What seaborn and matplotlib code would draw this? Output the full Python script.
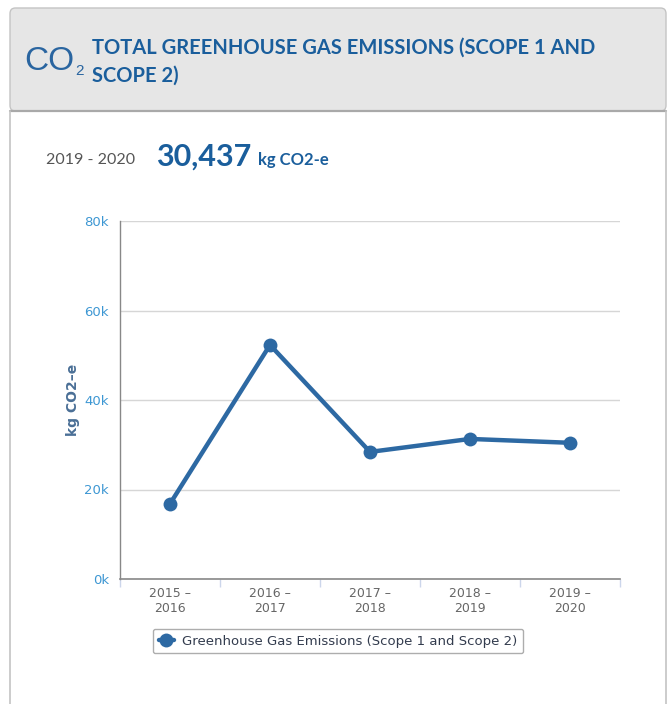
import matplotlib
matplotlib.use("Agg")
import matplotlib.pyplot as plt
import seaborn as sns
import pandas as pd
from matplotlib.patches import FancyBboxPatch
from matplotlib.lines import Line2D

# ---- data ----
periods = ["2015 –\n2016", "2016 –\n2017", "2017 –\n2018", "2018 –\n2019", "2019 –\n2020"]
emissions = [16800, 52300, 28400, 31300, 30437]
series_name = "Greenhouse Gas Emissions (Scope 1 and Scope 2)"
y_ticks = [0, 20000, 40000, 60000, 80000]
y_tick_labels = ["0k", "20k", "40k", "60k", "80k"]

sns.set_theme(style="white")
plt.rcParams["font.family"] = ["DejaVu Sans"]

W, H = 672, 704
fig = plt.figure(figsize=(W / 100, H / 100), dpi=100)

def fx(x):
    return x / W

def fy(y):
    return 1 - y / H

# card / header
header = FancyBboxPatch((fx(10), fy(111)), fx(666) - fx(10), fy(8) - fy(111),
                        boxstyle="round,pad=0,rounding_size=0.008",
                        transform=fig.transFigure, facecolor="#e6e6e6",
                        edgecolor="#c4c4c4", linewidth=1.0, zorder=0)
fig.patches.append(header)
fig.add_artist(Line2D([fx(10), fx(666)], [fy(111), fy(111)], transform=fig.transFigure,
                      color="#a9a9a9", linewidth=1.6))
fig.add_artist(Line2D([fx(10), fx(10)], [fy(111), 0], transform=fig.transFigure,
                      color="#c4c4c4", linewidth=1.2))
fig.add_artist(Line2D([fx(666), fx(666)], [fy(111), 0], transform=fig.transFigure,
                      color="#c4c4c4", linewidth=1.2))

blue = "#1a5e9c"
fig.text(fx(24), fy(61), "CO", fontsize=24, color="#2a65a0", family="Liberation Sans",
         fontweight="normal", va="center", ha="left")
fig.text(fx(75), fy(71), "2", fontsize=11, color="#2a65a0", family="Liberation Sans",
         va="center", ha="left")
fig.text(fx(92), fy(48), "TOTAL GREENHOUSE GAS EMISSIONS (SCOPE 1 AND", fontsize=14.5,
         color=blue, family="Lato", fontweight="bold", va="center", ha="left")
fig.text(fx(92), fy(76), "SCOPE 2)", fontsize=14.5,
         color=blue, family="Lato", fontweight="bold", va="center", ha="left")

fig.text(fx(46), fy(160), "2019 - 2020", fontsize=11.5, color="#555555",
         family="Lato", va="center", ha="left")
fig.text(fx(156), fy(157), f"{emissions[-1]:,}", fontsize=22, color=blue,
         family="Lato", fontweight="bold", va="center", ha="left")
fig.text(fx(258), fy(160), "kg CO2-e", fontsize=12, color=blue,
         family="Lato", fontweight="bold", va="center", ha="left")

# ---- chart ----
ax = fig.add_axes([fx(120), fy(579), fx(620) - fx(120), fy(221) - fy(579)])
df = pd.DataFrame({"period": periods, "emissions": emissions})
line_color = "#2d69a3"
sns.lineplot(data=df, x="period", y="emissions", ax=ax, color=line_color,
             linewidth=3.2, marker="o", markersize=10, markeredgewidth=0,
             sort=False, label=series_name, legend=False)

ax.set_xlim(-0.5, len(periods) - 0.5)
ax.set_ylim(0, 80000)
ax.set_yticks(y_ticks)
ax.set_yticklabels(y_tick_labels)
ax.yaxis.grid(True, color="#d6d6d6", linewidth=1)
ax.xaxis.grid(False)
ax.set_axisbelow(True)
for s in ["top", "right"]:
    ax.spines[s].set_visible(False)
ax.spines["left"].set_color("#888888")
ax.spines["left"].set_linewidth(1)
ax.spines["bottom"].set_color("#888888")
ax.spines["bottom"].set_linewidth(1.2)

ax.set_xticks(range(len(periods)))
ax.set_xticklabels(periods, fontsize=9, color="#666666", linespacing=1.2)
ax.set_xticks([i - 0.5 for i in range(len(periods) + 1)], minor=True)
ax.tick_params(axis="x", which="major", length=0, pad=6)
ax.tick_params(axis="x", which="minor", length=6, color="#ccd6eb", width=1, direction="out",
               bottom=True)
ax.tick_params(axis="y", length=0, labelsize=9.5, labelcolor="#3d97d3", pad=8)

ax.set_xlabel("")
ax.set_ylabel("kg CO2–e", fontsize=10, color="#4a6f96", fontweight="bold", labelpad=3)

handles = [Line2D([0], [0], color=line_color, linewidth=3.2, marker="o", markersize=10,
                  markeredgewidth=0)]
leg = fig.legend(handles, [series_name], loc="center", bbox_to_anchor=(fx(338), fy(641)),
                 bbox_transform=fig.transFigure, frameon=True, fontsize=9.5,
                 handlelength=1.2, handletextpad=0.6, borderpad=0.45, fancybox=True)
leg.get_frame().set_edgecolor("#999999")
leg.get_frame().set_linewidth(1)
for t in leg.get_texts():
    t.set_color("#333c4e")

fig.savefig("out.png", dpi=100)
